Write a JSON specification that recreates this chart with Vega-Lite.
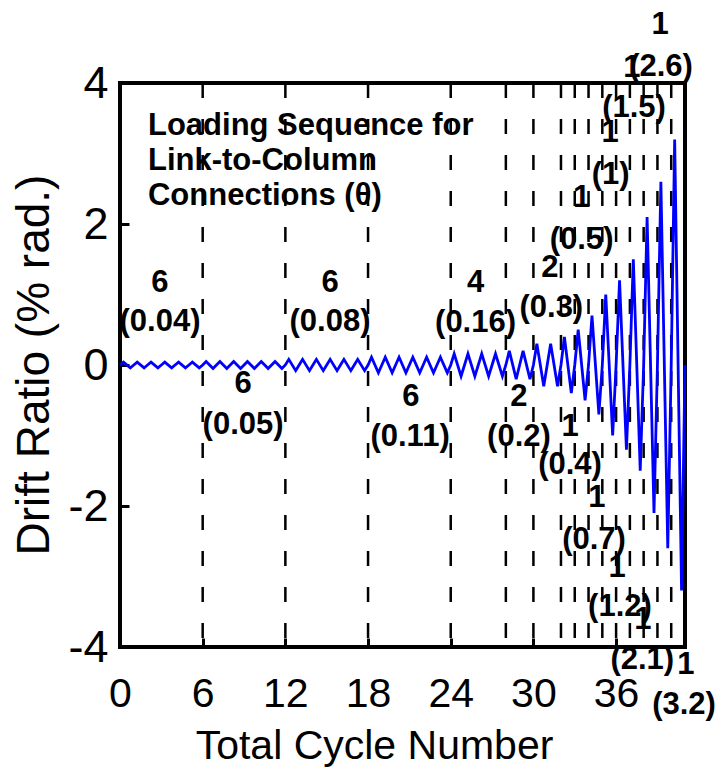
{
  "$schema": "https://vega.github.io/schema/vega-lite/v6.json",
  "autosize": {"type": "none"},
  "padding": {"left": 120, "top": 83, "right": 36, "bottom": 120},
  "width": 565,
  "height": 564,
  "background": "white",
  "config": {
    "view": {"stroke": "black", "strokeWidth": 4},
    "font": "Liberation Sans"
  },
  "datasets": {
    "wave": [
      {"c":0,"d":0},{"c":0.25,"d":0.04},{"c":0.75,"d":-0.04},
      {"c":1,"d":0},{"c":1.25,"d":0.04},{"c":1.75,"d":-0.04},
      {"c":2,"d":0},{"c":2.25,"d":0.04},{"c":2.75,"d":-0.04},
      {"c":3,"d":0},{"c":3.25,"d":0.04},{"c":3.75,"d":-0.04},
      {"c":4,"d":0},{"c":4.25,"d":0.04},{"c":4.75,"d":-0.04},
      {"c":5,"d":0},{"c":5.25,"d":0.04},{"c":5.75,"d":-0.04},
      {"c":6,"d":0},{"c":6.25,"d":0.05},{"c":6.75,"d":-0.05},
      {"c":7,"d":0},{"c":7.25,"d":0.05},{"c":7.75,"d":-0.05},
      {"c":8,"d":0},{"c":8.25,"d":0.05},{"c":8.75,"d":-0.05},
      {"c":9,"d":0},{"c":9.25,"d":0.05},{"c":9.75,"d":-0.05},
      {"c":10,"d":0},{"c":10.25,"d":0.05},{"c":10.75,"d":-0.05},
      {"c":11,"d":0},{"c":11.25,"d":0.05},{"c":11.75,"d":-0.05},
      {"c":12,"d":0},{"c":12.25,"d":0.08},{"c":12.75,"d":-0.08},
      {"c":13,"d":0},{"c":13.25,"d":0.08},{"c":13.75,"d":-0.08},
      {"c":14,"d":0},{"c":14.25,"d":0.08},{"c":14.75,"d":-0.08},
      {"c":15,"d":0},{"c":15.25,"d":0.08},{"c":15.75,"d":-0.08},
      {"c":16,"d":0},{"c":16.25,"d":0.08},{"c":16.75,"d":-0.08},
      {"c":17,"d":0},{"c":17.25,"d":0.08},{"c":17.75,"d":-0.08},
      {"c":18,"d":0},{"c":18.25,"d":0.11},{"c":18.75,"d":-0.11},
      {"c":19,"d":0},{"c":19.25,"d":0.11},{"c":19.75,"d":-0.11},
      {"c":20,"d":0},{"c":20.25,"d":0.11},{"c":20.75,"d":-0.11},
      {"c":21,"d":0},{"c":21.25,"d":0.11},{"c":21.75,"d":-0.11},
      {"c":22,"d":0},{"c":22.25,"d":0.11},{"c":22.75,"d":-0.11},
      {"c":23,"d":0},{"c":23.25,"d":0.11},{"c":23.75,"d":-0.11},
      {"c":24,"d":0},{"c":24.25,"d":0.16},{"c":24.75,"d":-0.16},
      {"c":25,"d":0},{"c":25.25,"d":0.16},{"c":25.75,"d":-0.16},
      {"c":26,"d":0},{"c":26.25,"d":0.16},{"c":26.75,"d":-0.16},
      {"c":27,"d":0},{"c":27.25,"d":0.16},{"c":27.75,"d":-0.16},
      {"c":28,"d":0},{"c":28.25,"d":0.2},{"c":28.75,"d":-0.2},
      {"c":29,"d":0},{"c":29.25,"d":0.2},{"c":29.75,"d":-0.2},
      {"c":30,"d":0},{"c":30.25,"d":0.3},{"c":30.75,"d":-0.3},
      {"c":31,"d":0},{"c":31.25,"d":0.3},{"c":31.75,"d":-0.3},
      {"c":32,"d":0},{"c":32.25,"d":0.4},{"c":32.75,"d":-0.4},
      {"c":33,"d":0},{"c":33.25,"d":0.5},{"c":33.75,"d":-0.5},
      {"c":34,"d":0},{"c":34.25,"d":0.7},{"c":34.75,"d":-0.7},
      {"c":35,"d":0},{"c":35.25,"d":1.0},{"c":35.75,"d":-1.0},
      {"c":36,"d":0},{"c":36.25,"d":1.2},{"c":36.75,"d":-1.2},
      {"c":37,"d":0},{"c":37.25,"d":1.5},{"c":37.75,"d":-1.5},
      {"c":38,"d":0},{"c":38.25,"d":2.1},{"c":38.75,"d":-2.1},
      {"c":39,"d":0},{"c":39.25,"d":2.6},{"c":39.75,"d":-2.6},
      {"c":40,"d":0},{"c":40.25,"d":3.2},{"c":40.75,"d":-3.2},
      {"c":41,"d":0}
    ],
    "bounds": [
      {"c":6},{"c":12},{"c":18},{"c":24},{"c":28},{"c":30},{"c":32},{"c":33},
      {"c":34},{"c":35},{"c":36},{"c":37},{"c":38},{"c":39},{"c":40}
    ],
    "labels": [
      {"c":2.9,"d":1.16,"t":"6"},{"c":2.9,"d":0.61,"t":"(0.04)"},
      {"c":8.93,"d":-0.27,"t":"6"},{"c":8.93,"d":-0.85,"t":"(0.05)"},
      {"c":15.24,"d":1.16,"t":"6"},{"c":15.24,"d":0.61,"t":"(0.08)"},
      {"c":21.1,"d":-0.45,"t":"6"},{"c":21.05,"d":-1.02,"t":"(0.11)"},
      {"c":25.8,"d":1.16,"t":"4"},{"c":25.8,"d":0.6,"t":"(0.16)"},
      {"c":28.95,"d":-0.45,"t":"2"},{"c":28.95,"d":-1.02,"t":"(0.2)"},
      {"c":31.2,"d":1.38,"t":"2"},{"c":31.3,"d":0.81,"t":"(0.3)"},
      {"c":32.66,"d":-0.88,"t":"1"},{"c":32.66,"d":-1.42,"t":"(0.4)"},
      {"c":33.5,"d":2.37,"t":"1"},{"c":33.5,"d":1.77,"t":"(0.5)"},
      {"c":34.6,"d":-1.89,"t":"1"},{"c":34.4,"d":-2.48,"t":"(0.7)"},
      {"c":35.56,"d":3.29,"t":"1"},{"c":35.6,"d":2.7,"t":"(1)"},
      {"c":36.07,"d":-2.88,"t":"1"},{"c":36.28,"d":-3.43,"t":"(1.2)"},
      {"c":37.15,"d":4.21,"t":"1"},{"c":37.3,"d":3.65,"t":"(1.5)"},
      {"c":39.19,"d":4.82,"t":"1"},{"c":39.26,"d":4.23,"t":"(2.6)"},
      {"c":37.95,"d":-3.62,"t":"1"},{"c":37.9,"d":-4.18,"t":"(2.1)"},
      {"c":41.07,"d":-4.26,"t":"1"},{"c":40.93,"d":-4.82,"t":"(3.2)"}
    ],
    "note": [
      {"c":2.03,"d":3.262,"t":"Loading Sequence for"},
      {"c":2.03,"d":2.766,"t":"Link-to-Column"},
      {"c":2.03,"d":2.27,"t":"Connections (θ)"}
    ]
  },
  "encoding": {
    "x": {
      "field": "c", "type": "quantitative",
      "scale": {"domain": [0, 41], "nice": false, "zero": false},
      "axis": {
        "values": [0, 6, 12, 18, 24, 30, 36],
        "grid": false, "domain": false,
        "tickSize": -9, "tickWidth": 3, "tickColor": "black",
        "labelFont": "Liberation Sans", "labelFontSize": 41, "labelColor": "black",
        "labelPadding": 36, "labelFlush": false, "labelBaseline": "top",
        "title": "Total Cycle Number",
        "titleFont": "Liberation Sans", "titleFontSize": 41, "titleFontWeight": "normal", "titleColor": "black",
        "titleX": 254, "titleY": 111, "titleBaseline": "alphabetic", "titleAlign": "center", "titleAnchor": null
      }
    },
    "y": {
      "field": "d", "type": "quantitative",
      "scale": {"domain": [-4, 4], "nice": false, "zero": false},
      "axis": {
        "values": [-4, -2, 0, 2, 4],
        "labelExpr": "datum.value < 0 ? '-' + abs(datum.value) : '' + datum.value",
        "grid": false, "domain": false,
        "tickSize": -9, "tickWidth": 3, "tickColor": "black",
        "labelFont": "Liberation Sans", "labelFontSize": 45, "labelColor": "black",
        "labelPadding": 21, "labelFlush": false,
        "title": "Drift Ratio (% rad.)",
        "titleFont": "Liberation Sans", "titleFontSize": 46, "titleFontWeight": "normal", "titleColor": "black",
        "titleX": -72, "titleY": 281.5, "titleBaseline": "alphabetic", "titleAlign": "center", "titleAnchor": null, "titleAngle": -90
      }
    }
  },
  "layer": [
    {
      "mark": {"type": "rule", "color": "#222222", "strokeWidth": 1.2},
      "encoding": {"x": null, "y": {"datum": 0, "type": "quantitative"}}
    },
    {
      "data": {"name": "bounds"},
      "mark": {"type": "rule", "color": "black", "strokeWidth": 2.5, "strokeDash": [15, 21]},
      "encoding": {"y": null}
    },
    {
      "data": {"name": "wave"},
      "mark": {"type": "line", "color": "#0000ff", "strokeWidth": 2.8}
    },
    {
      "data": {"name": "labels"},
      "mark": {"type": "text", "font": "Liberation Sans", "fontWeight": "bold", "fontSize": 31, "color": "black", "align": "center", "baseline": "middle"},
      "encoding": {"text": {"field": "t"}}
    },
    {
      "data": {"name": "note"},
      "mark": {"type": "text", "font": "Liberation Sans", "fontWeight": "bold", "fontSize": 31, "color": "black", "align": "left", "baseline": "alphabetic"},
      "encoding": {"text": {"field": "t"}}
    }
  ]
}
